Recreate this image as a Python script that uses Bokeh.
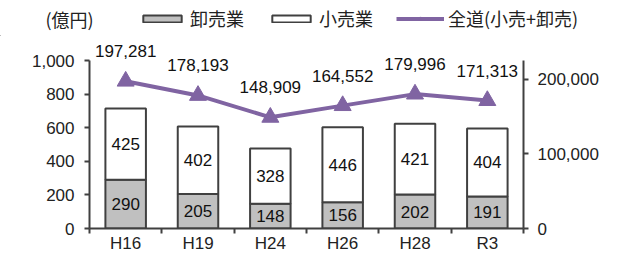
from bokeh.plotting import figure
from bokeh.layouts import column
from bokeh.models import (ColumnDataSource, Range1d, LinearAxis, FixedTicker,
                          Legend, LegendItem, NumeralTickFormatter, Label)
from bokeh.core.properties import value
from bokeh.embed import file_html
from bokeh.resources import INLINE

categories = ["H16", "H19", "H24", "H26", "H28", "R3"]
wholesale = [290, 205, 148, 156, 202, 191]
retail = [425, 402, 328, 446, 421, 404]
total = [197281, 178193, 148909, 164552, 179996, 171313]
left_ticks = [0, 200, 400, 600, 800, 1000]
right_ticks = [0, 100000, 200000]
series_names = ["卸売業", "小売業", "全道(小売+卸売)"]
unit_label = "(億円)"

LEFT_MAX = 1000
RIGHT_MAX = 225000
FRAME_H = 192
AXIS_PX = 168  # pixels for 0..1000
scale = FRAME_H / AXIS_PX
TOP_H = 36
W = 606

AX = "#404040"
GRAY = "#c0c0c0"
PURPLE = "#8064a2"
NUMFONT = "Liberation Sans"
JPFONT = "Noto Sans CJK JP"

xs = list(range(len(categories)))
src = ColumnDataSource(dict(
    x=xs,
    w=wholesale,
    r=retail,
    top=[a + b for a, b in zip(wholesale, retail)],
    wmid=[a / 2 for a in wholesale],
    rmid=[a + b / 2 for a, b in zip(wholesale, retail)],
    wl=[str(v) for v in wholesale],
    rl=[str(v) for v in retail],
    total=total,
    tl=[f"{v:,}" for v in total],
))

# ---------- header (legend) ----------
h = figure(width=W, height=TOP_H, min_border=0, x_range=Range1d(0, 1), y_range=Range1d(0, 1),
           x_axis_type=None, y_axis_type=None, output_backend="svg", toolbar_location=None,
           frame_align=False)
h.outline_line_color = None
h.xgrid.visible = False
h.ygrid.visible = False
# legend-key renderers: a single key sample kept outside the header's visible range
key = ColumnDataSource(dict(x=[-5], y=[-5], top=[-5]))
hw = h.vbar(x="x", top="top", width=0.1, source=key, fill_color=GRAY, line_color=AX, line_width=2)
hr = h.vbar(x="x", top="top", width=0.1, source=key, fill_color="white", line_color=AX, line_width=2)
hl = h.line(x="x", y="y", source=key, line_color=PURPLE, line_width=4)
hm = h.scatter(x="x", y="y", source=key, marker="triangle", size=12,
               fill_color=PURPLE, line_color=PURPLE)
legend = Legend(items=[
    LegendItem(label=series_names[0], renderers=[hw]),
    LegendItem(label=series_names[1], renderers=[hr]),
    LegendItem(label=series_names[2], renderers=[hl, hm]),
], orientation="horizontal", location=(138, 5),
    label_text_font=JPFONT, label_text_font_size="18px", label_text_color="#222222",
    label_height=20,
    glyph_width=48, glyph_height=9, label_standoff=4, spacing=23,
    padding=0, margin=0, border_line_alpha=0, background_fill_alpha=0)
h.add_layout(legend, "center")
h.add_layout(Label(x=45, y=18, x_units="screen", y_units="screen", text=unit_label,
                   text_font=JPFONT, text_font_size="18px", text_color="#222222",
                   text_baseline="middle", text_align="left"))

# ---------- main chart ----------
p = figure(frame_width=434, frame_height=FRAME_H,
           min_border_left=89, min_border_right=83,
           min_border_top=0, min_border_bottom=19,
           x_range=Range1d(-0.5, len(categories) - 0.5),
           y_range=Range1d(0, LEFT_MAX * scale),
           output_backend="svg", toolbar_location=None, frame_align=False)
p.extra_y_ranges = {"total": Range1d(0, RIGHT_MAX * scale)}
p.outline_line_color = None
p.xgrid.visible = False
p.ygrid.visible = False

p.xaxis.ticker = FixedTicker(ticks=xs, minor_ticks=[i - 0.5 for i in range(len(categories) + 1)])
p.xaxis.major_label_overrides = {i: c for i, c in enumerate(categories)}
p.xaxis.major_tick_out = 0
p.xaxis.major_tick_in = 0
p.xaxis.minor_tick_out = 5
p.xaxis.minor_tick_in = 0
p.xaxis.major_label_standoff = 0

p.yaxis.ticker = FixedTicker(ticks=left_ticks)
p.yaxis.bounds = (0, LEFT_MAX)
p.yaxis.formatter = NumeralTickFormatter(format="0,0")
p.yaxis.major_tick_out = 5
p.yaxis.major_tick_in = 0
p.yaxis.minor_tick_out = 0
p.yaxis.minor_tick_in = 0
p.yaxis.major_label_standoff = 10

raxis = LinearAxis(y_range_name="total", ticker=FixedTicker(ticks=right_ticks),
                   bounds=(0, RIGHT_MAX), formatter=NumeralTickFormatter(format="0,0"))
raxis.major_tick_out = 5
raxis.major_tick_in = 0
raxis.minor_tick_out = 0
raxis.minor_tick_in = 0
raxis.major_label_standoff = 9
p.add_layout(raxis, "right")

for ax in [p.xaxis[0], p.yaxis[0], raxis]:
    ax.axis_line_color = AX
    ax.axis_line_width = 2
    ax.major_tick_line_color = AX
    ax.major_tick_line_width = 2
    ax.minor_tick_line_color = AX
    ax.minor_tick_line_width = 2
    ax.major_label_text_font = NUMFONT
    ax.major_label_text_font_size = "17px"
    ax.major_label_text_color = "#222222"

p.vbar(x="x", bottom=0, top="w", width=0.56, source=src,
       fill_color=GRAY, line_color=AX, line_width=2)
p.vbar(x="x", bottom="w", top="top", width=0.56, source=src,
       fill_color="white", line_color=AX, line_width=2)

p.text(x="x", y="wmid", text="wl", source=src, text_align="center", text_baseline="middle",
       text_font=value(NUMFONT), text_font_size="17px", text_color="#111111")
p.text(x="x", y="rmid", text="rl", source=src, text_align="center", text_baseline="middle",
       text_font=value(NUMFONT), text_font_size="17px", text_color="#111111")

p.line(x="x", y="total", source=src, y_range_name="total",
       line_color=PURPLE, line_width=4)
p.scatter(x="x", y="total", source=src, y_range_name="total", marker="triangle",
          size=17, fill_color=PURPLE, line_color=PURPLE)
p.text(x="x", y="total", text="tl", source=src, y_range_name="total",
       text_align="center", text_baseline="middle", y_offset=-30,
       text_font=value(NUMFONT), text_font_size="17px", text_color="#111111")

layout = column(h, p, spacing=0)
open("out.html", "w").write(file_html(layout, INLINE))
